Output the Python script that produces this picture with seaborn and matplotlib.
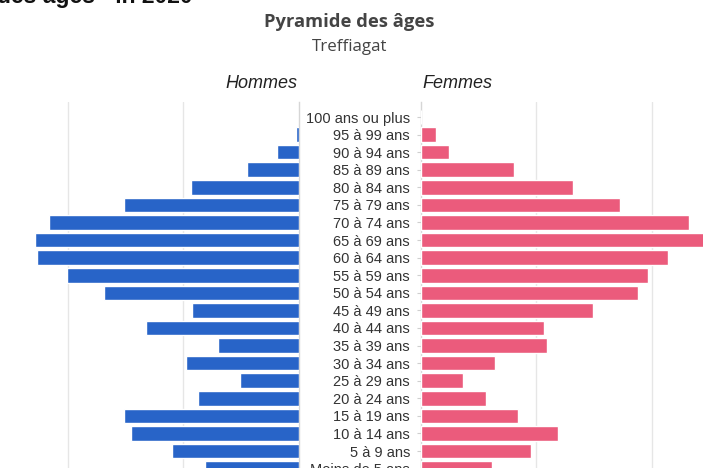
import matplotlib
matplotlib.use("Agg")
import matplotlib.pyplot as plt
import seaborn as sns
import pandas as pd

categories = ["100 ans ou plus", "95 à 99 ans", "90 à 94 ans", "85 à 89 ans", "80 à 84 ans",
              "75 à 79 ans", "70 à 74 ans", "65 à 69 ans", "60 à 64 ans", "55 à 59 ans",
              "50 à 54 ans", "45 à 49 ans", "40 à 44 ans", "35 à 39 ans", "30 à 34 ans",
              "25 à 29 ans", "20 à 24 ans", "15 à 19 ans", "10 à 14 ans", "5 à 9 ans",
              "Moins de 5 ans"]
hommes = [0, 0.5, 3.8, 8.9, 18.6, 30.2, 43.3, 45.7, 45.3, 40.1, 33.7, 18.5, 26.5, 13.9,
          19.5, 10.1, 17.4, 30.2, 29.0, 21.9, 16.2]
femmes = [0, 2.6, 4.9, 16.1, 26.3, 34.5, 46.5, 49.5, 42.8, 39.3, 37.7, 29.9, 21.3, 21.9,
          12.9, 7.2, 11.3, 16.9, 23.7, 19.0, 12.3]

sns.set_theme(style="white")
plt.rcParams['font.family'] = ['Liberation Sans', 'DejaVu Sans']

W, H = 703, 468
fig = plt.figure(figsize=(W / 100, H / 100), dpi=100)
fig.patch.set_facecolor("white")

def fx(px):
    return px / W

def fy(py):
    return 1 - py / H

top_px, bot_px = 102, 500
row0, step = 117, 17.58
ylim = ((bot_px - row0) / step, (top_px - row0) / step)
unit_px = 115.3 / 20.0

df = pd.DataFrame({"cat": categories, "Hommes": hommes, "Femmes": femmes})

blue = "#2864c8"
pink = "#eb5b7c"
grid_c = "#e6e6e6"

# Left axes (Hommes)
lx0, lx1 = 0, 298.5
axL = fig.add_axes([fx(lx0), fy(bot_px), fx(lx1 - lx0), (bot_px - top_px) / H])
sns.barplot(data=df, x="Hommes", y="cat", orient="h", color=blue, width=0.83,
            ax=axL, saturation=1, zorder=3)
axL.set_xlim((lx1 - lx0) / unit_px, 0)
axL.set_ylim(*ylim)
axL.set_xticks([20, 40])
axL.xaxis.grid(True, color=grid_c, linewidth=1, zorder=0)
axL.set_yticks([])
axL.set_xticklabels([])
axL.tick_params(axis="x", length=0)
axL.set_xlabel("")
axL.set_ylabel("")
for s in ["left", "top", "bottom"]:
    axL.spines[s].set_visible(False)
axL.spines["right"].set_color("#d6d6d6")
axL.spines["right"].set_linewidth(1)
axL.set_facecolor("none")

# Right axes (Femmes)
rx0, rx1 = 421, 703
axR = fig.add_axes([fx(rx0), fy(bot_px), fx(rx1 - rx0), (bot_px - top_px) / H])
sns.barplot(data=df, x="Femmes", y="cat", orient="h", color=pink, width=0.83,
            ax=axR, saturation=1, zorder=3)
axR.set_xlim(0, (rx1 - rx0) / unit_px)
axR.set_ylim(*ylim)
axR.set_xticks([20, 40])
axR.xaxis.grid(True, color=grid_c, linewidth=1, zorder=0)
axR.set_xticklabels([])
axR.tick_params(axis="x", length=0)
axR.tick_params(axis="y", length=3, width=0.8, color="#cfcfcf", pad=5,
                labelsize=10.5, labelcolor="#333333", left=True)
axR.set_xlabel("")
axR.set_ylabel("")
for s in ["right", "top", "bottom"]:
    axR.spines[s].set_visible(False)
axR.spines["left"].set_color("#d6d6d6")
axR.spines["left"].set_linewidth(1)
axR.set_facecolor("none")

# Texts
fig.text(fx(349.5), fy(22), "Pyramide des âges", ha="center", va="center",
         fontsize=13.2, fontweight="bold", color="#444444",
         family=["Open Sans", "DejaVu Sans"])
fig.text(fx(350), fy(47), "Treffiagat", ha="center", va="center",
         fontsize=12.2, color="#444444", family=["Open Sans", "DejaVu Sans"])
fig.text(fx(261), fy(84), "Hommes", ha="center", va="center", fontsize=13,
         style="italic", color="#222222")
fig.text(fx(457), fy(84), "Femmes", ha="center", va="center", fontsize=13,
         style="italic", color="#222222")
fig.text(fx(193), fy(3), "des âges - in 2020", ha="right", va="baseline",
         fontsize=16.5, fontweight="bold", color="#111111")

fig.savefig("out.png", dpi=100, facecolor="white")
